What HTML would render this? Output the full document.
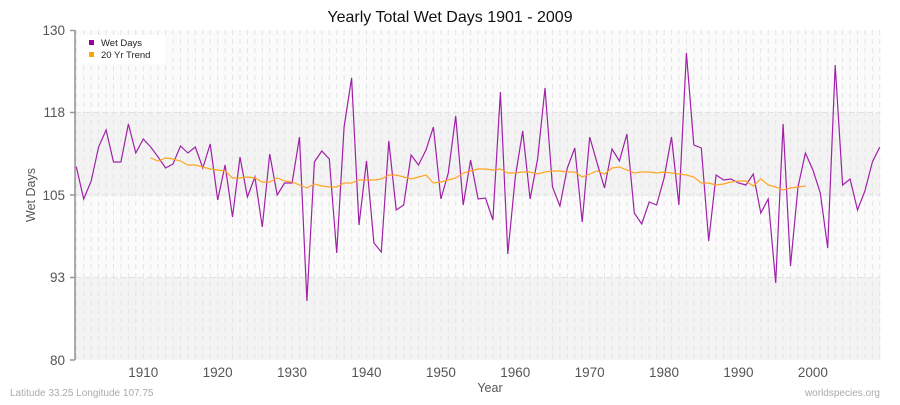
<!DOCTYPE html>
<html><head><meta charset="utf-8"><style>
body{margin:0;background:#fff;width:900px;height:400px;overflow:hidden;font-family:"Liberation Sans","DejaVu Sans",sans-serif}
</style></head><body>
<svg id="s" width="900" height="400" xmlns="http://www.w3.org/2000/svg" font-family="Liberation Sans, DejaVu Sans, sans-serif">
<rect width="900" height="400" fill="#fff"/>
<rect x="75" y="30" width="805" height="82.5" fill="#fbfbfb"/>
<rect x="75" y="112.5" width="805" height="82.5" fill="#f3f3f3"/>
<rect x="75" y="195" width="805" height="82.5" fill="#fbfbfb"/>
<rect x="75" y="277.5" width="805" height="82.5" fill="#f3f3f3"/>
<g id="grid"></g>
<g stroke="#e2e2e2" stroke-dasharray="6,3" stroke-width="1">
<line x1="75" x2="880" y1="112.5" y2="112.5"/><line x1="75" x2="880" y1="195" y2="195"/><line x1="75" x2="880" y1="277.5" y2="277.5"/>
</g>
<line x1="75" y1="30" x2="75" y2="360" stroke="#777" stroke-width="1.2"/>
<g stroke="#999" stroke-width="1.5">
<line x1="70" x2="75" y1="30.5" y2="30.5"/><line x1="70" x2="75" y1="112.5" y2="112.5"/><line x1="70" x2="75" y1="195" y2="195"/><line x1="70" x2="75" y1="277.5" y2="277.5"/><line x1="70" x2="75" y1="360" y2="360"/>
</g>
<g font-size="13.5" fill="#555" text-anchor="end">
<text x="65" y="35">130</text><text x="65" y="117">118</text><text x="65" y="200">105</text><text x="65" y="282">93</text><text x="65" y="365">80</text>
</g>
<g id="xl" font-size="13.5" fill="#555" text-anchor="middle"></g>
<polyline id="wet" fill="none" stroke="#a020a8" stroke-width="1.2"/>
<polyline id="tr" fill="none" stroke="#ffa521" stroke-width="1.2"/>
<rect x="80" y="35" width="86" height="29" rx="4" fill="#fff" opacity="0.95"/>
<rect x="89" y="40" width="5" height="5" fill="#990099"/>
<rect x="89" y="52" width="5" height="5" fill="#ffa500"/>
<g font-size="9.5" fill="#222"><text x="101" y="46">Wet Days</text><text x="101" y="58">20 Yr Trend</text></g>
<text x="450" y="22" font-size="16" fill="#111" text-anchor="middle">Yearly Total Wet Days 1901 - 2009</text>
<text x="490" y="392" font-size="12.5" fill="#555" text-anchor="middle">Year</text>
<text x="35" y="195" font-size="12.5" fill="#555" text-anchor="middle" transform="rotate(-90 35 195)">Wet Days</text>
<text x="10" y="396" font-size="10" fill="#aaa">Latitude 33.25 Longitude 107.75</text>
<text x="880" y="396" font-size="10" fill="#aaa" text-anchor="end">worldspecies.org</text>
</svg>
<script>
var X=function(y){return 76.3+(y-1901)*7.44;};
var wet=[166.7,199,181,147,130,162,162,124,153,139,147,157,168,164,146,153,147,168,144,200,165,217,157,197,177,227,154,195,183,183,137,301,162,151,159,253,127,78,225,161,243,252,141,210,205,155,165,150,127,199,173,116,205,160,199,198,220,92,254,177,131,199,159,88,187,206,168,148,222,137,163,188,149,161,134,213,224,202,205,178,137,205,53,145,148,241,175,180,179,183,185,174,213,199,283,124,266,187,153,170,193,248,65,185,179,210,191,162,147];
var tr=[158,161,158,159,161,165,165,167,169,170,171,178,178,177,178,182,182,178,181,182,185,188,184,186,187,187,183,183,180,180,180,179,175,175,177,179,177,175,183,182,180,178,173,171,169,169,170,169,173,173,172,172,174,172,171,171,172,172,177,174,171,174,168,167,170,173,172,172,173,172,173,174,175,177,183,183,185,184,182,181,181,186,179,185,187,190,188,187,186];
var p=wet.map(function(v,i){return X(1901+i).toFixed(1)+","+v;}).join(" ");
document.getElementById("wet").setAttribute("points",p);
var q=tr.map(function(v,i){return X(1911+i).toFixed(1)+","+v;}).join(" ");
document.getElementById("tr").setAttribute("points",q);
var ns="http://www.w3.org/2000/svg",g=document.getElementById("grid"),xl=document.getElementById("xl");
for(var y=1901;y<=2009;y++){var l=document.createElementNS(ns,"line");var x=X(y).toFixed(1);
l.setAttribute("x1",x);l.setAttribute("x2",x);l.setAttribute("y1",30);l.setAttribute("y2",360);
l.setAttribute("stroke","#e4e4e4");l.setAttribute("stroke-dasharray","5,4");g.appendChild(l);}
for(var y=1910;y<=2000;y+=10){var t=document.createElementNS(ns,"text");t.setAttribute("x",X(y));t.setAttribute("y",377);t.textContent=y;xl.appendChild(t);}
</script>
</body></html>
